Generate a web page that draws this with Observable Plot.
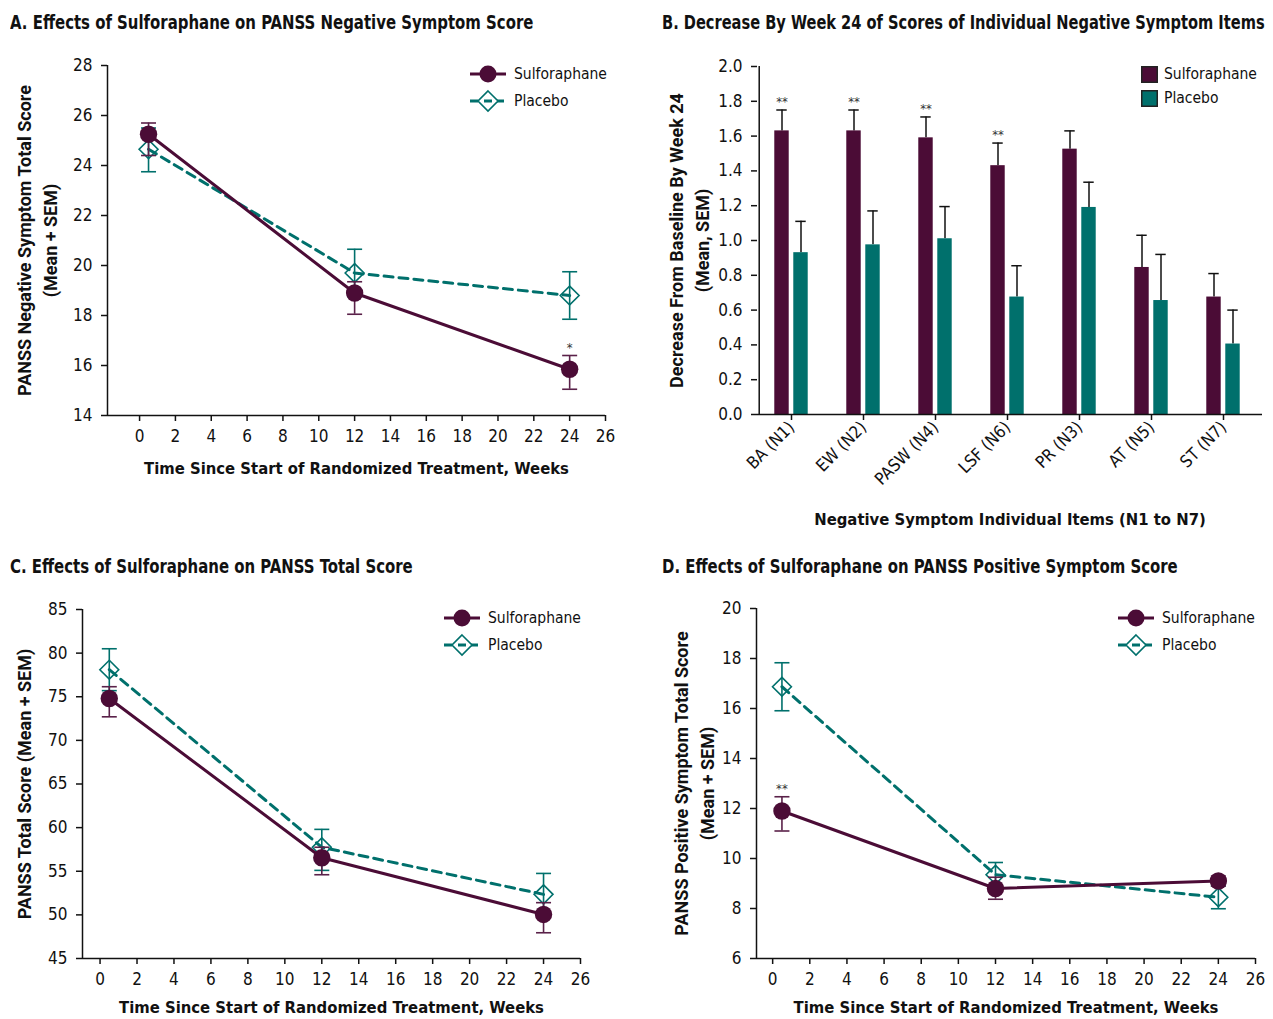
<!DOCTYPE html>
<html><head><meta charset="utf-8">
<script src="https://cdn.jsdelivr.net/npm/d3@7"></script>
<script src="https://cdn.jsdelivr.net/npm/@observablehq/plot@0.6"></script>
<style>
body{margin:0;background:#fff;}
#root{position:relative;width:1273px;height:1019px;overflow:hidden;background:#fff;}
.ttl{position:absolute;font-family:"Liberation Sans Narrow","DejaVu Sans Condensed","Roboto Condensed",Roboto,sans-serif;font-weight:bold;font-size:19px;line-height:22px;white-space:nowrap;color:#111;transform:scaleX(0.873);transform-origin:0 0;}
.lg{position:absolute;display:flex;align-items:center;height:22px;font-family:"Liberation Sans Narrow","DejaVu Sans Condensed","Roboto Condensed",Roboto,sans-serif;font-size:15.5px;color:#111;white-space:nowrap;}
</style></head>
<body><div id="root"></div>
<script>
// ---------- data ----------
const seriesNames = ["Sulforaphane", "Placebo"];
const weeks = [0.5, 12, 24];
const weekTicks = [0, 2, 4, 6, 8, 10, 12, 14, 16, 18, 20, 22, 24, 26];

// Panel A: PANSS negative symptom score
const negSulfMean = [25.25, 18.9, 15.85];
const negSulfLow  = [24.4, 18.05, 15.05];
const negSulfHigh = [25.7, 19.35, 16.4];
const negPlcMean  = [24.65, 19.7, 18.8];
const negPlcLow   = [23.75, 18.75, 17.85];
const negPlcHigh  = [25.5, 20.65, 19.75];
const negStars    = ["", "", "*"];
const negTicks    = [14, 16, 18, 20, 22, 24, 26, 28];

// Panel B: decrease by week 24 of individual negative items
const items       = ["BA (N1)", "EW (N2)", "PASW (N4)", "LSF (N6)", "PR (N3)", "AT (N5)", "ST (N7)"];
const itemSulf    = [1.63, 1.63, 1.59, 1.43, 1.525, 0.845, 0.675];
const itemSulfTop = [1.75, 1.75, 1.71, 1.56, 1.63, 1.03, 0.81];
const itemPlc     = [0.93, 0.975, 1.01, 0.675, 1.19, 0.655, 0.405];
const itemPlcTop  = [1.11, 1.17, 1.195, 0.855, 1.335, 0.92, 0.60];
const itemStars   = ["**", "**", "**", "**", "", "", ""];
const itemTicks   = [0, 0.2, 0.4, 0.6, 0.8, 1.0, 1.2, 1.4, 1.6, 1.8, 2.0];

// Panel C: PANSS total score
const totSulfMean = [74.8, 56.55, 50.05];
const totSulfLow  = [72.7, 54.6, 47.95];
const totSulfHigh = [76.15, 57.75, 51.4];
const totPlcMean  = [78.1, 57.75, 52.35];
const totPlcLow   = [75.7, 55.1, 49.95];
const totPlcHigh  = [80.5, 59.8, 54.75];
const totStars    = ["", "", ""];
const totTicks    = [45, 50, 55, 60, 65, 70, 75, 80, 85];

// Panel D: PANSS positive symptom score
const posSulfMean = [11.9, 8.8, 9.1];
const posSulfLow  = [11.1, 8.37, 8.9];
const posSulfHigh = [12.47, 9.25, 9.3];
const posPlcMean  = [16.87, 9.35, 8.45];
const posPlcLow   = [15.91, 8.86, 7.99];
const posPlcHigh  = [17.83, 9.84, 8.9];
const posStars    = ["**", "", ""];
const posTicks    = [6, 8, 10, 12, 14, 16, 18, 20];

// ---------- style ----------
const PURPLE = "#4b0c36";
const TEAL = "#00706c";
const FONT_C = '"Liberation Sans Narrow","DejaVu Sans Condensed","Roboto Condensed",Roboto,sans-serif';
const FONT_B = 'Roboto,"Open Sans",sans-serif';
const root = document.getElementById("root");

function place(el, left, top) {
  el.style.position = "absolute";
  el.style.left = left + "px";
  el.style.top = top + "px";
  root.appendChild(el);
}
function title(letter, text, left, top, scale) {
  const d = document.createElement("div");
  d.className = "ttl";
  d.innerHTML = "<span>" + letter + "</span> " + text;
  d.style.left = left + "px"; d.style.top = top + "px";
  if (scale) d.style.transform = "scaleX(" + scale + ")";
  root.appendChild(d);
}
function lineLegend(left, top, gap) {
  seriesNames.forEach((name, i) => {
    const d = document.createElement("div");
    d.className = "lg";
    d.style.left = left + "px"; d.style.top = (top + i * gap - 11) + "px";
    const s = d3.create("svg").attr("width", 36).attr("height", 22).style("overflow", "visible");
    if (i === 0) {
      s.append("line").attr("x1", 0).attr("x2", 36).attr("y1", 11).attr("y2", 11).attr("stroke", PURPLE).attr("stroke-width", 3);
      s.append("circle").attr("cx", 18).attr("cy", 11).attr("r", 8.5).attr("fill", PURPLE);
    } else {
      s.append("line").attr("x1", 0).attr("x2", 36).attr("y1", 11).attr("y2", 11).attr("stroke", TEAL).attr("stroke-width", 3).attr("stroke-dasharray", "8,5");
      s.append("path").attr("d", "M18,1L28,11L18,21L8,11Z").attr("fill", "white").attr("stroke", TEAL).attr("stroke-width", 1.6);
      s.append("line").attr("x1", 14).attr("x2", 22).attr("y1", 11).attr("y2", 11).attr("stroke", TEAL).attr("stroke-width", 3);
    }
    d.appendChild(s.node());
    const t = document.createElement("span");
    t.textContent = name; t.style.marginLeft = "8px";
    d.appendChild(t);
    root.appendChild(d);
  });
}
function boxLegend(left, top, gap) {
  [PURPLE, TEAL].forEach((c, i) => {
    const d = document.createElement("div");
    d.className = "lg";
    d.style.left = left + "px"; d.style.top = (top + i * gap - 11) + "px";
    const s = d3.create("svg").attr("width", 17).attr("height", 17);
    s.append("rect").attr("x", 0.75).attr("y", 0.75).attr("width", 15.5).attr("height", 15.5).attr("fill", c).attr("stroke", "#222").attr("stroke-width", 1.5);
    d.appendChild(s.node());
    const t = document.createElement("span");
    t.textContent = seriesNames[i]; t.style.marginLeft = "6px";
    d.appendChild(t);
    root.appendChild(d);
  });
}

const capSymbol = {draw(ctx, size) { const h = Math.sqrt(size / Math.PI); ctx.moveTo(-h, 0); ctx.lineTo(h, 0); }};
const AXIS_STYLE = {fontFamily: FONT_C, fontSize: "17px", color: "#111", background: "transparent", overflow: "visible"};
const yTitle = (label, dx) => Plot.text([label], {text: d => d, frameAnchor: "left", textAnchor: "middle", lineAnchor: "middle", rotate: -90, dx, fontSize: 18, fontWeight: "bold", fontFamily: FONT_B, lineHeight: 1.45, fill: "#111"});
const xTitle = (label, dy) => Plot.text([label], {text: d => d, frameAnchor: "bottom", textAnchor: "middle", lineAnchor: "middle", dy, fontSize: 16.5, fontWeight: "bold", fontFamily: FONT_C, fill: "#111"});

function linePanel(c) {
  const sRows = weeks.map((w, i) => ({week: w, mean: c.s[i], lo: c.sLo[i], hi: c.sHi[i], star: c.stars[i]}));
  const pRows = weeks.map((w, i) => ({week: w, mean: c.p[i], lo: c.pLo[i], hi: c.pHi[i]}));
  return Plot.plot({
    width: c.width, height: c.height,
    marginLeft: c.ml, marginRight: c.mr, marginTop: c.mt, marginBottom: c.mb,
    style: AXIS_STYLE,
    x: {domain: c.xDomain},
    y: {domain: c.yDomain},
    marks: [
      Plot.axisX({ticks: weekTicks, tickSize: 6, tickPadding: 8, label: null, strokeWidth: 1.5}),
      Plot.axisY({ticks: c.yTicks, tickSize: 6, tickPadding: 9, label: null, strokeWidth: 1.5}),
      Plot.ruleY([c.yDomain[0]], {stroke: "#111", strokeWidth: 1.5}),
      Plot.ruleX([c.xDomain[0]], {stroke: "#111", strokeWidth: 1.5}),
      Plot.line(pRows, {x: "week", y: "mean", stroke: TEAL, strokeWidth: 3, strokeDasharray: "9,6"}),
      Plot.ruleX(pRows, {x: "week", y1: "lo", y2: "hi", stroke: TEAL, strokeWidth: 1.6}),
      Plot.dot(pRows, {x: "week", y: "lo", symbol: capSymbol, r: 7.5, stroke: TEAL, strokeWidth: 1.6}),
      Plot.dot(pRows, {x: "week", y: "hi", symbol: capSymbol, r: 7.5, stroke: TEAL, strokeWidth: 1.6}),
      Plot.dot(pRows, {x: "week", y: "mean", symbol: "diamond2", r: 8.5, stroke: TEAL, fill: "none", strokeWidth: 1.6}),
      Plot.line(sRows, {x: "week", y: "mean", stroke: PURPLE, strokeWidth: 3}),
      Plot.ruleX(sRows, {x: "week", y1: "lo", y2: "hi", stroke: "#5a2149", strokeWidth: 1.6}),
      Plot.dot(sRows, {x: "week", y: "lo", symbol: capSymbol, r: 7.5, stroke: "#5a2149", strokeWidth: 1.6}),
      Plot.dot(sRows, {x: "week", y: "hi", symbol: capSymbol, r: 7.5, stroke: "#5a2149", strokeWidth: 1.6}),
      Plot.dot(sRows, {x: "week", y: "mean", r: 8.7, fill: PURPLE, stroke: "none"}),
      Plot.text(sRows, {x: "week", y: "hi", text: "star", dy: -8, fontSize: 13, fill: "#333"}),
      yTitle(c.yLabel, c.yLabelDx),
      xTitle(c.xLabel, c.xLabelDy)
    ]
  });
}

// ---------- Panel A ----------
title("A.", "Effects of Sulforaphane on PANSS Negative Symptom Score", 10, 11);
place(linePanel({
  s: negSulfMean, sLo: negSulfLow, sHi: negSulfHigh, p: negPlcMean, pLo: negPlcLow, pHi: negPlcHigh, stars: negStars,
  width: 640, height: 450, ml: 107, mr: 35, mt: 25, mb: 75,
  xDomain: [-1.79, 26], yDomain: [14, 28], yTicks: negTicks,
  yLabel: "PANSS Negative Symptom Total Score\n(Mean + SEM)", yLabelDx: -72,
  xLabel: "Time Since Start of Randomized Treatment, Weeks", xLabelDy: 53
}), 0, 40);
lineLegend(470, 74, 27);

// ---------- Panel B ----------
title("B.", "Decrease By Week 24 of Scores of Individual Negative Symptom Items", 662, 11, 0.855);
(function () {
  const W = 633, H = 500, ML = 117, MR = 11, MT = 26, MB = 126;
  const R0 = ML - 4, R1 = W - MR - 1;
  const bw = (R1 - R0) / items.length;
  const half = bw / 2;
  const rows = items.map((d, i) => ({item: d, s: itemSulf[i], sTop: itemSulfTop[i], p: itemPlc[i], pTop: itemPlcTop[i], star: itemStars[i]}));
  const chart = Plot.plot({
    width: W, height: H, marginLeft: ML, marginRight: MR, marginTop: MT, marginBottom: MB,
    style: AXIS_STYLE,
    x: {domain: items, padding: 0, range: [R0, R1]},
    y: {domain: [0, 2]},
    marks: [
      Plot.axisX({tickRotate: -45, tickSize: 6, tickPadding: 4, label: null, strokeWidth: 1.5}),
      Plot.axisY({ticks: itemTicks, tickFormat: d3.format(".1f"), tickSize: 6, tickPadding: 9, label: null, strokeWidth: 1.5}),
      Plot.ruleX(rows, {x: "item", y1: "s", y2: "sTop", dx: -9.5, stroke: "#111", strokeWidth: 1.5}),
      Plot.tickY(rows, {x: "item", y: "sTop", insetLeft: half - 9.5 - 5.5, insetRight: half + 9.5 - 5.5, stroke: "#111", strokeWidth: 1.5}),
      Plot.ruleX(rows, {x: "item", y1: "p", y2: "pTop", dx: 9.5, stroke: "#111", strokeWidth: 1.5}),
      Plot.tickY(rows, {x: "item", y: "pTop", insetLeft: half + 9.5 - 5.5, insetRight: half - 9.5 - 5.5, stroke: "#111", strokeWidth: 1.5}),
      Plot.barY(rows, {x: "item", y: "s", fill: PURPLE, insetLeft: half - 17, insetRight: half + 2}),
      Plot.barY(rows, {x: "item", y: "p", fill: TEAL, insetLeft: half + 2, insetRight: half - 17}),
      Plot.ruleY([0], {stroke: "#111", strokeWidth: 1.5}),
      Plot.ruleX([items[0]], {dx: -half + (ML - R0), stroke: "#111", strokeWidth: 1.5}),
      Plot.text(rows, {x: "item", y: "sTop", text: "star", dx: -9.5, dy: -8, fontSize: 13, fill: "#333"}),
      yTitle("Decrease From Baseline By Week 24\n(Mean, SEM)", -70),
      xTitle("Negative Symptom Individual Items (N1 to N7)", 105)
    ]
  });
  place(chart, 640, 40);
})();
boxLegend(1141, 74, 24);

// ---------- Panel C ----------
title("C.", "Effects of Sulforaphane on PANSS Total Score", 10, 555);
place(linePanel({
  s: totSulfMean, sLo: totSulfLow, sHi: totSulfHigh, p: totPlcMean, pLo: totPlcLow, pHi: totPlcHigh, stars: totStars,
  width: 640, height: 434, ml: 82, mr: 60, mt: 24, mb: 61,
  xDomain: [-0.95, 26], yDomain: [45, 85], yTicks: totTicks,
  yLabel: "PANSS Total Score (Mean + SEM)", yLabelDx: -60,
  xLabel: "Time Since Start of Randomized Treatment, Weeks", xLabelDy: 49
}), 0, 585);
lineLegend(444, 618, 27);

// ---------- Panel D ----------
title("D.", "Effects of Sulforaphane on PANSS Positive Symptom Score", 662, 555);
place(linePanel({
  s: posSulfMean, sLo: posSulfLow, sHi: posSulfHigh, p: posPlcMean, pLo: posPlcLow, pHi: posPlcHigh, stars: posStars,
  width: 633, height: 434, ml: 116, mr: 18, mt: 23, mb: 61,
  xDomain: [-0.87, 26], yDomain: [6, 20], yTicks: posTicks,
  yLabel: "PANSS Positive Symptom Total Score\n(Mean + SEM)", yLabelDx: -64,
  xLabel: "Time Since Start of Randomized Treatment, Weeks", xLabelDy: 49
}), 640, 585);
lineLegend(1118, 618, 27);
</script>
</body></html>
